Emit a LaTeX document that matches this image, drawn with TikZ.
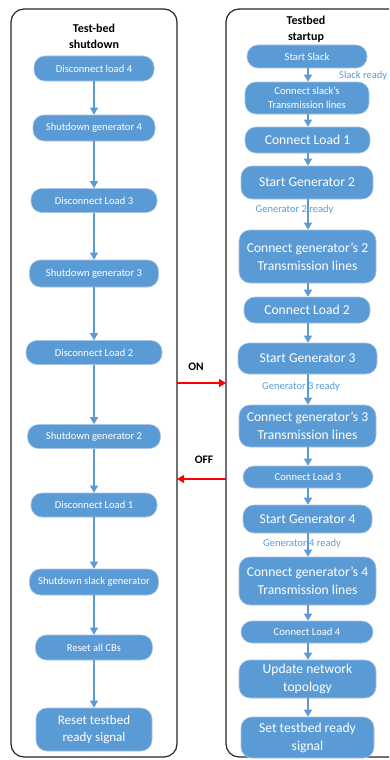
\documentclass[tikz,border=0pt]{standalone}
\usepackage{fontspec}
\setmainfont{Carlito}
\usetikzlibrary{arrows.meta}
\definecolor{nodeblue}{HTML}{5B9BD5}
\definecolor{nodeedge}{HTML}{A8C4E6}
\definecolor{panelline}{HTML}{262626}
\tikzset{
  box/.style={draw=nodeedge, line width=0.6pt, fill=nodeblue, text=white, inner sep=0pt, align=center, rounded corners=11pt},
  fsmall/.style={font=\fontsize{10.6}{14}\selectfont},
  fbig/.style={font=\fontsize{13.6}{18}\selectfont},
  fmid/.style={font=\fontsize{13}{17.5}\selectfont},
  flow/.style={draw=nodeblue, line width=1.2pt, -{Triangle[width=8pt,length=7pt]}},
  panel/.style={draw=panelline, line width=1.2pt, rounded corners=13pt},
  title/.style={font=\bfseries\fontsize{12}{16}\selectfont, align=center},
  ready/.style={text=nodeblue, font=\fontsize{10.5}{12}\selectfont, inner sep=0pt},
  sig/.style={draw=red, line width=1.2pt, -{Triangle[width=8pt,length=7pt]}},
  siglabel/.style={font=\bfseries\fontsize{11.5}{13}\selectfont, inner sep=0pt}
}
\begin{document}
\begin{tikzpicture}[x=1pt,y=-1pt]
\useasboundingbox (0,0) rectangle (389,760);
\clip (0,0) rectangle (389,760);
\fill[white] (0,0) rectangle (389,760);
% panels
\draw[panel] (11,9) rectangle (177,757);
\draw[panel] (226,9) rectangle (405,757);
% titles
\node[title] (tl) at (94,36) {Test-bed\\shutdown};
\node[title] (tr) at (306,29) {Testbed\\startup};
% left column
\node[box,fsmall,minimum width=120pt,minimum height=25pt] (l1) at (94,68.5) {Disconnect load 4};
\node[box,fsmall,minimum width=122pt,minimum height=26pt] (l2) at (94,128) {Shutdown generator 4};
\node[box,fsmall,minimum width=126pt,minimum height=24pt] (l3) at (94,200.5) {Disconnect Load 3};
\node[box,fsmall,minimum width=129pt,minimum height=27pt] (l4) at (94,273.5) {Shutdown generator 3};
\node[box,fsmall,minimum width=136pt,minimum height=24pt] (l5) at (94,352.5) {Disconnect Load 2};
\node[box,fsmall,minimum width=133pt,minimum height=24pt] (l6) at (94,436.5) {Shutdown generator 2};
\node[box,fsmall,minimum width=126pt,minimum height=24pt] (l7) at (94,505) {Disconnect Load 1};
\node[box,fsmall,minimum width=129pt,minimum height=26pt] (l8) at (94,582) {Shutdown slack generator};
\node[box,fsmall,minimum width=117pt,minimum height=25pt] (l9) at (94,647.5) {Reset all CBs};
\node[box,fmid,minimum width=116pt,minimum height=43pt] (l10) at (94,729.5) {Reset testbed\\ready signal};
\foreach \a/\b in {l1/l2,l2/l3,l3/l4,l4/l5,l5/l6,l6/l7,l7/l8,l8/l9,l9/l10}
  \draw[flow] (\a) -- (\b);
% right column labels (under arrows)
\node[ready,anchor=west] (rs) at (339,76) {Slack ready};
\node[ready] (r2) at (294.5,210) {Generator 2 ready};
\node[ready] (r3) at (301,387) {Generator 3 ready};
\node[ready] (r4) at (302,544) {Generator 4 ready};
% right column
\node[box,fsmall,minimum width=120pt,minimum height=23pt] (s1) at (307,56.5) {Start Slack};
\node[box,fsmall,minimum width=124pt,minimum height=32pt] (s2) at (307,98) {Connect slack’s\\Transmission lines};
\node[box,fbig,minimum width=125pt,minimum height=26pt] (s3) at (307.5,140) {Connect Load 1};
\node[box,fbig,minimum width=132pt,minimum height=33pt] (s4) at (307,182.5) {Start Generator 2};
\node[box,fbig,minimum width=137pt,minimum height=53pt] (s5) at (307.5,256.5) {Connect generator’s 2\\Transmission lines};
\node[box,fbig,minimum width=126pt,minimum height=26pt] (s6) at (307,310) {Connect Load 2};
\node[box,fbig,minimum width=139pt,minimum height=31pt] (s7) at (307.5,358.5) {Start Generator 3};
\node[box,fbig,minimum width=137pt,minimum height=42pt] (s8) at (307.5,426) {Connect generator’s 3\\Transmission lines};
\node[box,fsmall,minimum width=130pt,minimum height=22pt] (s9) at (308,477) {Connect Load 3};
\node[box,fbig,minimum width=129pt,minimum height=28pt] (s10) at (307.5,519) {Start Generator 4};
\node[box,fbig,minimum width=137pt,minimum height=48pt] (s11) at (307.5,581) {Connect generator’s 4\\Transmission lines};
\node[box,fsmall,minimum width=132pt,minimum height=22pt] (s12) at (307,632) {Connect Load 4};
\node[box,fbig,minimum width=137pt,minimum height=38pt] (s13) at (307.5,679) {Update network\\topology};
\node[box,fbig,minimum width=133pt,minimum height=41pt] (s14) at (307.5,737.5) {Set testbed ready\\signal};
\foreach \a/\b in {s1/s2,s2/s3,s3/s4,s4/s5,s5/s6,s6/s7,s7/s8,s8/s9,s9/s10,s10/s11,s11/s12,s12/s13,s13/s14}
  \draw[flow] (\a.south -| 308,0) -- (\b.north -| 308,0);
% ON / OFF signals
\coordinate (onS) at (177,383);
\coordinate (onE) at (226,383);
\coordinate (offS) at (226,479);
\coordinate (offE) at (177,479);
\draw[sig] (onS) -- (onE);
\draw[sig] (offS) -- (offE);
\node[siglabel] (on) at (196,367) {ON};
\node[siglabel] (off) at (204,459.5) {OFF};
\end{tikzpicture}
\end{document}
